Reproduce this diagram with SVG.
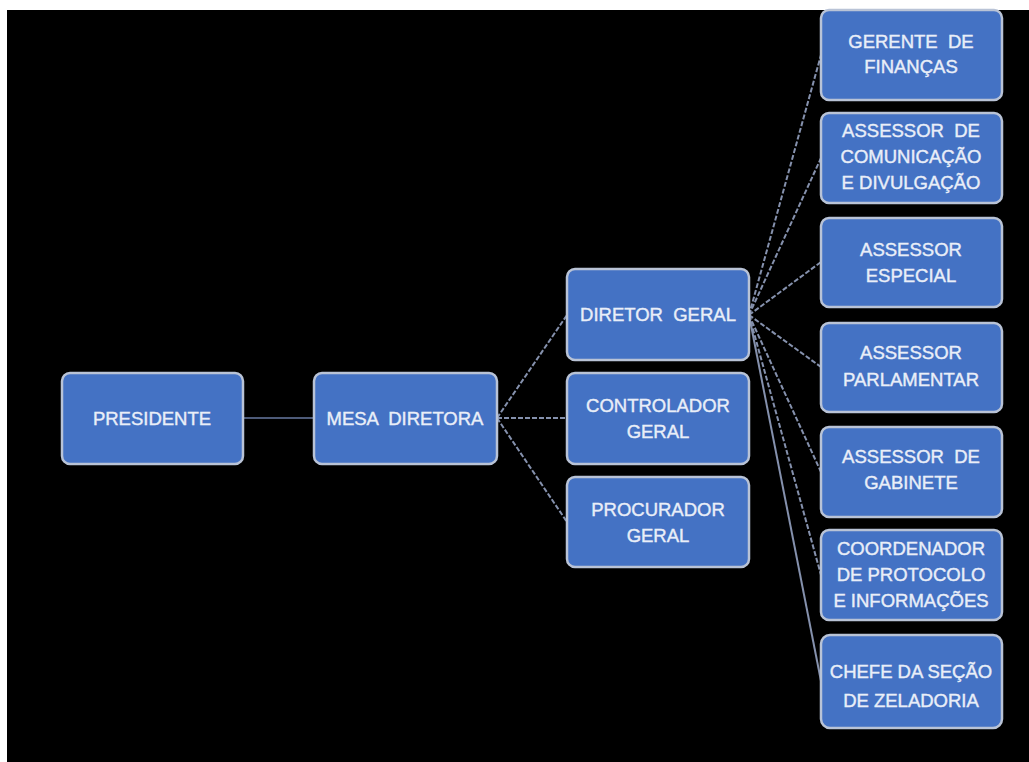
<svg xmlns="http://www.w3.org/2000/svg" width="1029" height="762" viewBox="0 0 1029 762">
<style>
.box{fill:#4472c4;stroke:#b9c3d6;stroke-width:2.5}
.t{font-family:"Liberation Sans",Arial,sans-serif;font-size:18.5px;fill:#e9eef8;text-anchor:middle;stroke:#e9eef8;stroke-width:0.4;white-space:pre}
.c{fill:none;stroke:#8591ad;stroke-width:2;stroke-dasharray:5 2}
</style>
<rect x="0" y="0" width="1029" height="762" fill="#ffffff"/>
<rect x="7" y="10" width="1022" height="752" fill="#000000"/>
<g id="connectors">
<line class="c" x1="243" y1="418" x2="314" y2="418" style="stroke-dasharray:none;stroke:#4d5a78"/>
<line class="c" x1="497" y1="418" x2="567" y2="315"/>
<line class="c" x1="497" y1="418" x2="567" y2="418"/>
<line class="c" x1="497" y1="418" x2="567" y2="522"/>
<line class="c" x1="749" y1="315" x2="821" y2="55"/>
<line class="c" x1="749" y1="315" x2="821" y2="158"/>
<line class="c" x1="749" y1="315" x2="821" y2="262"/>
<line class="c" x1="749" y1="315" x2="821" y2="367"/>
<line class="c" x1="749" y1="315" x2="821" y2="472"/>
<line class="c" x1="749" y1="315" x2="821" y2="575"/>
<line class="c" x1="749" y1="315" x2="821" y2="681" style="stroke-dasharray:none"/>
</g>
<g id="presidente"><rect class="box" x="62" y="373" width="181" height="91" rx="8"/><text class="t" x="152" y="425">PRESIDENTE</text></g>
<g id="mesa"><rect class="box" x="314" y="373" width="183" height="91" rx="8"/><text class="t" x="405" y="425">MESA  DIRETORA</text></g>
<g id="diretor"><rect class="box" x="567" y="269" width="182" height="91" rx="8"/><text class="t" x="658" y="321">DIRETOR  GERAL</text></g>
<g id="controlador"><rect class="box" x="567" y="373" width="182" height="91" rx="8"/><text class="t" x="658" y="412">CONTROLADOR</text><text class="t" x="658" y="438">GERAL</text></g>
<g id="procurador"><rect class="box" x="567" y="477" width="182" height="90" rx="8"/><text class="t" x="658" y="516">PROCURADOR</text><text class="t" x="658" y="542">GERAL</text></g>
<g id="gerente"><rect class="box" x="821" y="10" width="181" height="90" rx="8"/><text class="t" x="911" y="48">GERENTE  DE</text><text class="t" x="911" y="73">FINANÇAS</text></g>
<g id="comunicacao"><rect class="box" x="821" y="113" width="181" height="90" rx="8"/><text class="t" x="911" y="137">ASSESSOR  DE</text><text class="t" x="911" y="163">COMUNICAÇÃO</text><text class="t" x="911" y="189">E DIVULGAÇÃO</text></g>
<g id="especial"><rect class="box" x="821" y="218" width="181" height="89" rx="8"/><text class="t" x="911" y="256">ASSESSOR</text><text class="t" x="911" y="282">ESPECIAL</text></g>
<g id="parlamentar"><rect class="box" x="821" y="323" width="181" height="89" rx="8"/><text class="t" x="911" y="359">ASSESSOR</text><text class="t" x="911" y="386">PARLAMENTAR</text></g>
<g id="gabinete"><rect class="box" x="821" y="427" width="181" height="90" rx="8"/><text class="t" x="911" y="463">ASSESSOR  DE</text><text class="t" x="911" y="489">GABINETE</text></g>
<g id="coordenador"><rect class="box" x="821" y="530" width="181" height="90" rx="8"/><text class="t" x="911" y="555">COORDENADOR</text><text class="t" x="911" y="581">DE PROTOCOLO</text><text class="t" x="911" y="607">E INFORMAÇÕES</text></g>
<g id="chefe"><rect class="box" x="821" y="635" width="181" height="93" rx="9"/><text class="t" x="911" y="678">CHEFE DA SEÇÃO</text><text class="t" x="911" y="707">DE ZELADORIA</text></g>
</svg>
